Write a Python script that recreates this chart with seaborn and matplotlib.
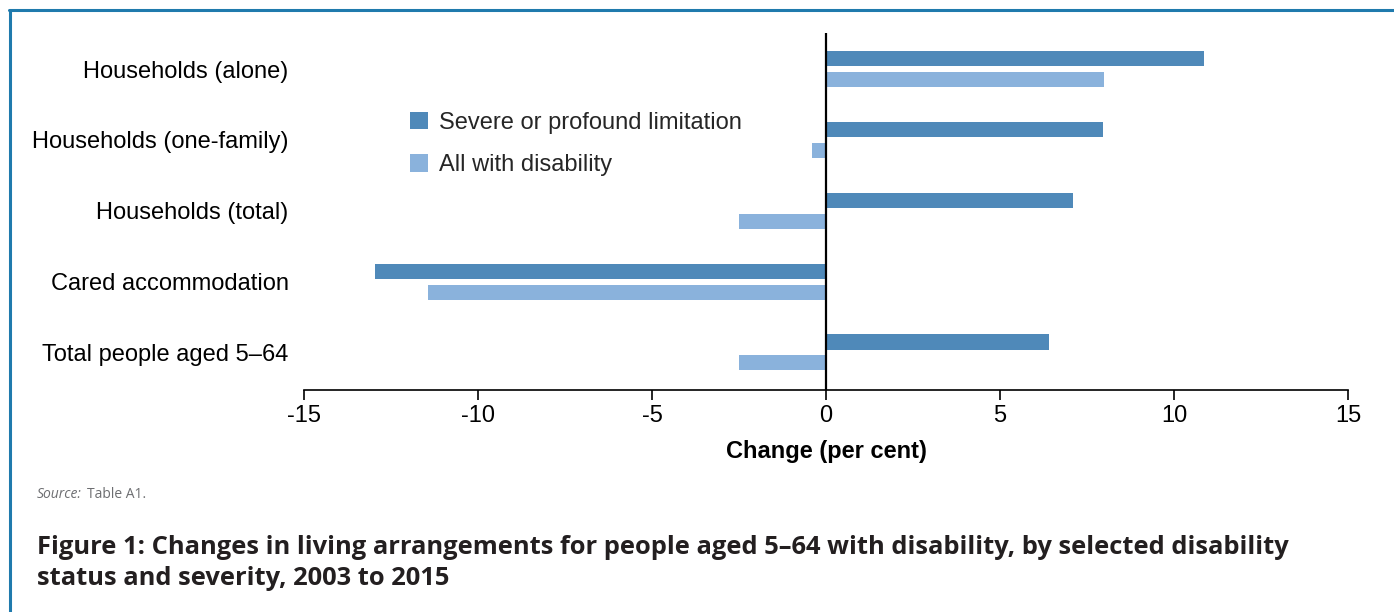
import matplotlib
matplotlib.use("Agg")
import matplotlib.pyplot as plt
import seaborn as sns
import pandas as pd
from matplotlib.patches import Patch
from matplotlib.lines import Line2D

categories = ["Households (alone)", "Households (one-family)", "Households (total)",
              "Cared accommodation", "Total people aged 5\u201364"]
severe = [10.85, 7.95, 7.1, -12.95, 6.4]
all_dis = [8.0, -0.4, -2.5, -11.45, -2.5]
series = ["Severe or profound limitation", "All with disability"]
colors = ["#4f89b9", "#8ab2dc"]
xticks = [-15, -10, -5, 0, 5, 10, 15]

df = pd.DataFrame({
    "category": categories * 2,
    "value": severe + all_dis,
    "series": [series[0]] * len(categories) + [series[1]] * len(categories),
})

sns.set_theme(style="white")
plt.rcParams["font.family"] = ["Liberation Sans", "DejaVu Sans"]
FS = 17

fig = plt.figure(figsize=(13.94, 6.12), dpi=100)
ax = fig.add_axes([304 / 1394, 1 - 390 / 612, (1348 - 304) / 1394, (390 - 33) / 612])

sns.barplot(data=df, x="value", y="category", hue="series", order=categories,
            hue_order=series, palette=colors, orient="h", width=0.59, gap=0.28,
            saturation=1, ax=ax, legend=False, linewidth=0)

ax.set_xlim(-15, 15)
ax.set_ylim(4.53, -0.51)
ax.set_xticks(xticks)
ax.set_xticklabels([str(t) for t in xticks], fontsize=FS)
ax.axvline(0, color="black", lw=1.6, zorder=5)
for s in ["top", "right", "left"]:
    ax.spines[s].set_visible(False)
ax.spines["bottom"].set_color("black")
ax.spines["bottom"].set_linewidth(1.2)
ax.tick_params(axis="x", bottom=True, direction="out", length=7, width=1.2,
               color="black", pad=4, labelcolor="black")
ax.tick_params(axis="y", left=False, pad=5, labelsize=FS, labelcolor="black")
ax.set_ylabel("")
ax.set_xlabel("Change (per cent)", fontsize=FS, fontweight="bold", color="black", labelpad=9)

handles = [Patch(facecolor=c, edgecolor="none") for c in colors]
fig.legend(handles, series, loc="upper left", bbox_to_anchor=(410 / 1394, 1 - 112 / 612),
           frameon=False, fontsize=FS, handlelength=0.76, handleheight=0.76,
           handletextpad=0.45, labelspacing=0.85, borderaxespad=0, borderpad=0)

# page border (top and left)
fig.add_artist(Line2D([9.5 / 1394, 9.5 / 1394], [0, 1 - 10 / 612], color="#1f7aad",
                      lw=2.2, transform=fig.transFigure))
fig.add_artist(Line2D([8.5 / 1394, 1], [1 - 10 / 612, 1 - 10 / 612], color="#1f7aad",
                      lw=2.2, transform=fig.transFigure))

fig.text(37 / 1394, 1 - 494 / 612, "Source:", fontsize=10, style="italic",
         color="#6d6e71", family=["Open Sans", "DejaVu Sans"], va="center")
fig.text(87 / 1394, 1 - 494 / 612, "Table A1.", fontsize=10,
         color="#6d6e71", family=["Open Sans", "DejaVu Sans"], va="center")
fig.text(37 / 1394, 1 - 563 / 612,
         "Figure 1: Changes in living arrangements for people aged 5\u201364 with disability, by selected disability\nstatus and severity, 2003 to 2015",
         fontsize=18.35, fontweight="bold", color="#231f20",
         family=["Open Sans", "DejaVu Sans"], va="center", linespacing=1.32)

fig.savefig("out.png", dpi=100, facecolor="white")
